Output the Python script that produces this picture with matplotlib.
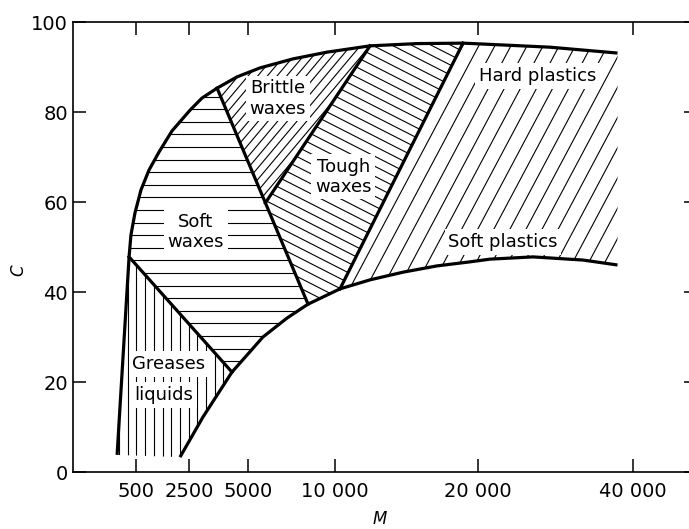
import numpy as np
import matplotlib
matplotlib.use("Agg")
import matplotlib.pyplot as plt
from matplotlib.collections import LineCollection
from matplotlib.patches import Polygon

# upper boundary (top of waxes / plastics)
upper_M = [350, 445, 460, 492, 689, 991, 1368, 1859, 2542, 3051, 3690, 4534,
           5690, 7586, 9540, 12450, 15730, 18950, 20650, 29300, 38000]
upper_C = [3.8, 47.8, 52.7, 57.6, 62.7, 67.1, 71.1, 75.8, 80.4, 83.1, 85.3, 87.8,
           89.8, 91.8, 93.3, 94.7, 95.2, 95.3, 95.1, 94.4, 93.1]

# lower boundary (bottom of the soft plastics band)
lower_M = [2160, 3090, 4320, 5860, 7240, 8450, 10350, 12450, 14750, 17130,
           19440, 21550, 27100, 33550, 38000]
lower_C = [3.3, 12.2, 22.2, 30.0, 34.2, 37.3, 40.7, 42.7, 44.4, 45.8,
           46.7, 47.3, 47.8, 47.1, 46.0]

# point where the brittle/tough divider meets the soft-wax divider
junction_M, junction_C = 6000, 59.8

# straight dividers between regions: (M0, M1), (C0, C1)
div_M = [(445, 4320), (3690, 8450), (6000, 12450), (10350, 18950)]
div_C = [(47.8, 22.2), (85.3, 37.3), (59.8, 94.7), (40.7, 95.3)]

tick_M = [500, 2500, 5000, 10000, 20000, 40000]
tick_labels = ["500", "2500", "5000", "10 000", "20 000", "40 000"]
c_ticks = [0, 20, 40, 60, 80, 100]

# the M axis of the original is neither linear nor log: piecewise mapping
AX_M = [0, 500, 2500, 5000, 10000, 20000, 40000, 60000]
AX_U = [0, 63, 116, 175, 262, 405, 560, 715]


def fwd(x):
    return np.interp(x, AX_M, AX_U)


def inv(u):
    return np.interp(u, AX_U, AX_M)


def seg(Ms, Cs, m0, m1):
    return [(m, c) for m, c in zip(Ms, Cs) if m0 <= m <= m1]


def hatch(ax, verts, angle, spacing, lw=0.8):
    """Clip a family of parallel lines (angle in deg, spacing in px) to a polygon."""
    poly = Polygon(verts, closed=True, facecolor="none", edgecolor="none",
                   transform=ax.transData)
    ax.add_patch(poly)
    W, H = ax.bbox.width, ax.bbox.height
    R = np.hypot(W, H)
    a = np.deg2rad(angle)
    d = np.array([np.cos(a), np.sin(a)])
    n = np.array([-np.sin(a), np.cos(a)])
    c0 = np.array([W / 2, H / 2])
    segs = []
    for t in np.arange(-R, R, spacing):
        c = c0 + t * n
        p0, p1 = c - R * d, c + R * d
        segs.append([(p0[0] / W, p0[1] / H), (p1[0] / W, p1[1] / H)])
    lc = LineCollection(segs, colors="black", linewidths=lw,
                        transform=ax.transAxes, zorder=1)
    ax.add_collection(lc)
    lc.set_clip_path(poly)


fig = plt.figure(figsize=(6.89, 5.29), dpi=100, facecolor="white")
ax = fig.add_axes([73 / 689, 57 / 529, 624 / 689, 450 / 529])
ax.set_xscale("function", functions=(fwd, inv))
ax.set_xlim(0, inv(624))
ax.set_ylim(0, 100)

greases = seg(upper_M, upper_C, 350, 445) + seg(lower_M, lower_C, 2160, 4320)[::-1]
soft_w = seg(upper_M, upper_C, 445, 3690) + seg(lower_M, lower_C, 4320, 8450)[::-1]
brittle = seg(upper_M, upper_C, 3690, 12450) + [(junction_M, junction_C)]
tough = (seg(upper_M, upper_C, 12450, 18950)
         + seg(lower_M, lower_C, 8450, 10350)[::-1] + [(junction_M, junction_C)])
plastics = seg(upper_M, upper_C, 18950, 38000) + seg(lower_M, lower_C, 10350, 38000)[::-1]

hatch(ax, greases, 90, 8.7)
hatch(ax, soft_w, 0, 12.6)
hatch(ax, brittle, 50, 7.4)
hatch(ax, tough, -27, 8.9)
hatch(ax, plastics, 62, 14.2)

# boundaries
ax.plot(upper_M, upper_C, color="black", lw=2.3, zorder=3,
        solid_capstyle="butt", solid_joinstyle="round")
ax.plot(lower_M, lower_C, color="black", lw=2.3, zorder=3,
        solid_capstyle="butt", solid_joinstyle="round")
for m, c in zip(div_M, div_C):
    ax.plot(m, c, color="black", lw=2.3, zorder=3)

box = dict(boxstyle="square,pad=0.2", facecolor="white", edgecolor="none")
lab = dict(fontsize=13, color="black", zorder=4, bbox=box, transform=ax.transAxes,
           linespacing=1.15)
ax.text(0.328, 0.830, "Brittle\nwaxes", ha="center", va="center", **lab)
ax.text(0.433, 0.656, "Tough\nwaxes", ha="center", va="center", **lab)
ax.text(0.744, 0.880, "Hard plastics", ha="center", va="center", **lab)
ax.text(0.689, 0.511, "Soft plastics", ha="center", va="center", **lab)
ax.text(0.197, 0.533, "Soft\nwaxes", ha="center", va="center", **lab)
ax.text(0.095, 0.240, "Greases", ha="left", va="center", **lab)
ax.text(0.098, 0.171, "liquids", ha="left", va="center", **lab)

ax.set_xticks(tick_M, tick_labels)
ax.set_yticks(c_ticks)
ax.tick_params(direction="in", length=9.5, width=1.1, top=True, right=True,
               labelsize=14, colors="black")
ax.tick_params(axis="x", pad=7)
ax.tick_params(axis="y", pad=3.5)
for s in ax.spines.values():
    s.set_linewidth(1.2)

ax.text(-0.088, 0.449, "C", rotation=90, ha="center", va="center", fontsize=12,
        style="italic", transform=ax.transAxes)
ax.text(0.492, -0.105, "M", ha="center", va="center", fontsize=12,
        style="italic", transform=ax.transAxes)

fig.savefig("out.png", dpi=100, facecolor="white")
